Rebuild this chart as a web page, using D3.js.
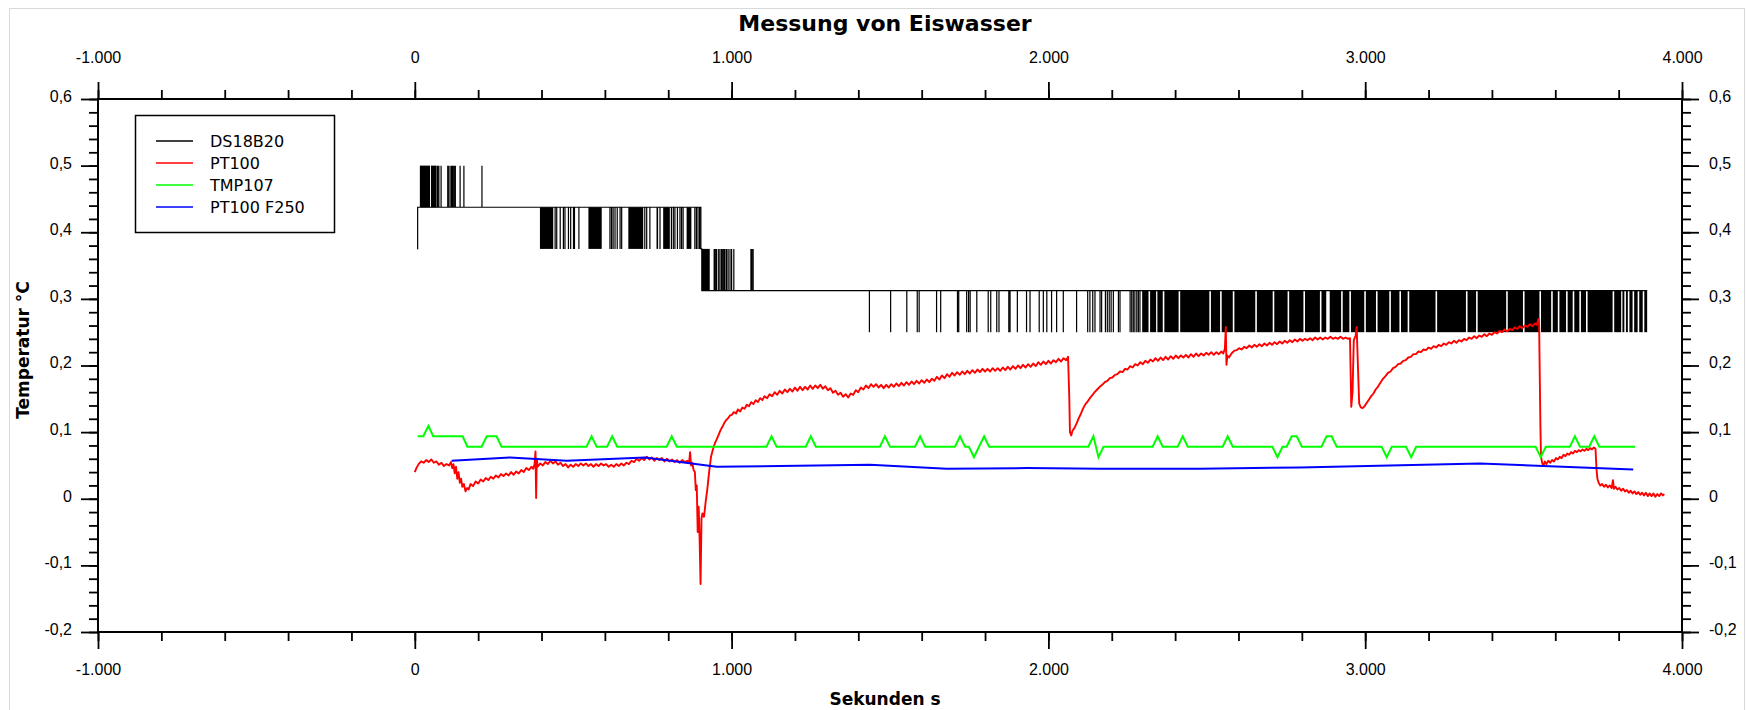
<!DOCTYPE html>
<html>
<head>
<meta charset="utf-8">
<script src="https://cdn.jsdelivr.net/npm/d3@7"></script>
<style>
  body { margin: 0; background: #fff; }
  svg { display: block; font-family: "DejaVu Sans", Verdana, sans-serif; }
</style>
</head>
<body>
<svg id="chart"></svg>
<script>
const width = 1746;
const height = 710;
const margin = { top: 99, right: 64, bottom: 78, left: 98 };

// tick labels / series names
const xTicks = [-1000, 0, 1000, 2000, 3000, 4000];
const yTicks = [-0.2, -0.1, 0, 0.1, 0.2, 0.3, 0.4, 0.5, 0.6];
const seriesNames = ['DS18B20', 'PT100', 'TMP107', 'PT100 F250'];
const seriesColors = ['#000000', '#ff0000', '#00ff00', '#0000ff'];

// DS18B20: base level steps [t, level]
const dsBase = [[8, 0.375], [9, 0.4375], [903, 0.375], [906, 0.3125], [3890, 0.3125]];
// single samples jumping to another level [t, level]
const dsSpikes = [
  [72, 0.5], [76, 0.5], [83, 0.5], [104, 0.5], [108, 0.5], [114, 0.5], [117, 0.5], [120, 0.5],
  [124, 0.5], [128, 0.5], [143, 0.5], [155, 0.5], [212, 0.5],
  [443, 0.375], [448, 0.375], [459, 0.375], [469, 0.375], [474, 0.375], [485, 0.375], [492, 0.375],
  [501, 0.375], [504, 0.375], [518, 0.375], [616, 0.375], [621, 0.375], [626, 0.375], [632, 0.375],
  [639, 0.375], [648, 0.375], [653, 0.375], [726, 0.375], [732, 0.375], [742, 0.375], [774, 0.375],
  [810, 0.375], [816, 0.375], [821, 0.375], [829, 0.375], [837, 0.375], [842, 0.375], [847, 0.375],
  [884, 0.375], [889, 0.375], [894, 0.375], [899, 0.375],
  [945, 0.375], [948, 0.375], [952, 0.375], [958, 0.375], [963, 0.375], [968, 0.375], [972, 0.375],
  [976, 0.375], [979, 0.375], [984, 0.375], [989, 0.375], [995, 0.375], [1000, 0.375], [1007, 0.375],
  [1061, 0.375], [1064, 0.375], [1068, 0.375],
  [1435, 0.25], [1502, 0.25], [1553, 0.25], [1586, 0.25], [1592, 0.25], [1647, 0.25], [1660, 0.25],
  [1713, 0.25], [1717, 0.25], [1742, 0.25], [1748, 0.25], [1753, 0.25], [1774, 0.25], [1810, 0.25],
  [1818, 0.25], [1837, 0.25], [1844, 0.25], [1875, 0.25], [1879, 0.25], [1902, 0.25], [1931, 0.25],
  [1942, 0.25], [1971, 0.25], [1984, 0.25], [1995, 0.25], [2010, 0.25], [2026, 0.25], [2047, 0.25],
  [2089, 0.25], [2124, 0.25], [2131, 0.25], [2140, 0.25], [2147, 0.25], [2163, 0.25], [2168, 0.25],
  [2180, 0.25], [2186, 0.25], [2192, 0.25], [2198, 0.25], [2205, 0.25], [2221, 0.25], [2226, 0.25],
  [2258, 0.25], [2263, 0.25], [2268, 0.25], [2273, 0.25], [2279, 0.25], [2284, 0.25], [2289, 0.25]
];
// stretches of continuous toggling [from, to, level]
const dsBursts = [
  [16, 48, 0.5], [51, 69, 0.5],
  [395, 437, 0.375], [548, 590, 0.375], [674, 721, 0.375], [763, 768, 0.375], [784, 805, 0.375], [858, 873, 0.375],
  [906, 931, 0.375],
  [2296, 2316, 0.25], [2321, 2340, 0.25], [2344, 2361, 0.25], [2366, 2411, 0.25], [2416, 2508, 0.25],
  [2513, 2542, 0.25], [2547, 2582, 0.25], [2587, 2653, 0.25], [2658, 2708, 0.25], [2713, 2755, 0.25],
  [2760, 2805, 0.25], [2810, 2857, 0.25], [2862, 2877, 0.25], [2888, 2924, 0.25], [2929, 2950, 0.25],
  [2955, 2997, 0.25], [3002, 3034, 0.25], [3039, 3076, 0.25], [3081, 3108, 0.25], [3113, 3134, 0.25],
  [3139, 3222, 0.25], [3227, 3318, 0.25], [3323, 3350, 0.25], [3355, 3445, 0.25], [3450, 3498, 0.25],
  [3503, 3550, 0.25], [3555, 3587, 0.25], [3592, 3608, 0.25], [3613, 3634, 0.25], [3639, 3655, 0.25],
  [3660, 3676, 0.25], [3681, 3697, 0.25], [3702, 3781, 0.25], [3786, 3808, 0.25], [3812, 3818, 0.25],
  [3823, 3829, 0.25], [3834, 3844, 0.25], [3849, 3860, 0.25], [3865, 3876, 0.25], [3881, 3890, 0.25]
];

// PT100 [t, temp]
const pt100 = [
  [0, .040], [5, .046], [12, .052], [20, .056], [28, .054], [36, .058], [44, .055], [52, .059], [60, .054],
  [68, .056], [76, .051], [84, .054], [92, .049], [100, .052], [108, .050], [114, .055], [118, .046],
  [122, .052], [126, .038], [130, .048], [134, .030], [138, .040], [142, .024], [146, .030], [150, .018],
  [155, .022], [160, .011], [165, .016], [170, .014], [176, .022], [184, .019], [192, .026], [200, .023],
  [208, .029], [216, .026], [224, .031], [232, .028], [240, .033], [248, .030], [256, .035], [264, .032],
  [272, .037], [280, .034], [288, .038], [296, .035], [304, .040], [312, .036], [320, .041], [328, .038],
  [336, .043], [344, .040], [352, .046], [360, .043], [368, .048], [374, .045], [378, .052], [381, .071],
  [383, .001], [385, .060], [388, .048], [396, .053], [404, .050], [412, .055], [420, .052], [428, .057],
  [436, .053], [444, .056], [452, .051], [460, .054], [468, .049], [476, .052], [484, .047], [492, .051],
  [500, .048], [508, .052], [516, .049], [524, .053], [532, .050], [540, .053], [548, .049], [556, .052],
  [564, .048], [572, .052], [580, .049], [588, .053], [596, .050], [604, .052], [612, .048], [620, .051],
  [628, .048], [636, .052], [644, .049], [652, .053], [660, .050], [668, .054], [676, .052], [684, .057],
  [692, .055], [700, .060], [708, .057], [716, .061], [724, .058], [732, .063], [740, .059], [748, .062],
  [756, .057], [764, .061], [772, .058], [780, .061], [788, .056], [796, .060], [804, .056], [812, .059],
  [820, .055], [828, .058], [836, .054], [844, .058], [852, .055], [860, .057], [866, .055], [869, .070],
  [872, .050], [876, .054], [880, .043], [884, .040], [887, .013], [890, .020], [893, -.050], [896, -.012],
  [899, -.060], [902, -.128], [905, -.030], [908, -.022], [913, -.027], [918, -.005], [923, .013],
  [929, .040], [935, .063], [941, .074], [947, .083], [953, .089], [959, .096], [965, .103], [971, .108],
  [977, .114], [983, .118], [989, .121], [995, .125], [1001, .126], [1007, .130], [1014, .128], [1020, .134],
  [1027, .131], [1034, .137], [1041, .135], [1048, .141], [1055, .139], [1062, .145], [1069, .142],
  [1076, .148], [1083, .145], [1090, .151], [1097, .148], [1104, .154], [1112, .151], [1120, .157],
  [1128, .154], [1136, .160], [1144, .156], [1152, .162], [1160, .158], [1168, .164], [1176, .160],
  [1184, .165], [1192, .161], [1200, .167], [1208, .162], [1216, .168], [1224, .163], [1232, .168],
  [1240, .164], [1248, .170], [1256, .165], [1264, .170], [1272, .166], [1280, .171], [1288, .165],
  [1296, .169], [1304, .163], [1312, .166], [1320, .159], [1328, .162], [1336, .156], [1344, .159],
  [1352, .153], [1360, .157], [1368, .152], [1376, .158], [1384, .156], [1392, .163], [1400, .160],
  [1408, .167], [1416, .164], [1424, .170], [1432, .166], [1440, .172], [1448, .168], [1456, .172],
  [1464, .167], [1472, .171], [1480, .166], [1488, .171], [1496, .167], [1504, .172], [1512, .168],
  [1520, .173], [1528, .169], [1536, .174], [1544, .170], [1552, .175], [1560, .171], [1568, .176],
  [1576, .172], [1584, .177], [1592, .173], [1600, .178], [1608, .174], [1616, .179], [1624, .175],
  [1632, .180], [1640, .177], [1648, .183], [1656, .179], [1664, .185], [1672, .181], [1680, .187],
  [1688, .183], [1696, .189], [1704, .185], [1712, .190], [1720, .186], [1728, .191], [1736, .187],
  [1744, .192], [1752, .188], [1760, .193], [1768, .189], [1776, .194], [1784, .190], [1792, .195],
  [1800, .191], [1808, .195], [1816, .191], [1824, .196], [1832, .192], [1840, .196], [1848, .192],
  [1856, .197], [1864, .193], [1872, .198], [1880, .194], [1888, .199], [1896, .195], [1904, .200],
  [1912, .196], [1920, .201], [1928, .197], [1936, .202], [1944, .198], [1952, .203], [1960, .199],
  [1968, .205], [1976, .201], [1984, .206], [1992, .202], [2000, .207], [2008, .203], [2016, .208],
  [2024, .205], [2032, .210], [2040, .206], [2048, .211], [2056, .208], [2062, .213], [2066, .150],
  [2068, .100], [2072, .095], [2076, .102], [2082, .106], [2089, .113], [2096, .121], [2103, .128],
  [2110, .136], [2117, .142], [2124, .146], [2131, .151], [2138, .155], [2146, .160], [2154, .164],
  [2162, .168], [2170, .171], [2178, .175], [2186, .177], [2194, .181], [2202, .182], [2210, .186],
  [2218, .187], [2226, .191], [2234, .190], [2242, .195], [2250, .194], [2258, .199], [2266, .197],
  [2274, .202], [2282, .200], [2290, .205], [2298, .202], [2306, .207], [2314, .204], [2322, .209],
  [2330, .206], [2338, .211], [2346, .207], [2354, .212], [2362, .208], [2370, .213], [2378, .209],
  [2386, .214], [2394, .210], [2402, .215], [2410, .211], [2418, .215], [2426, .212], [2434, .216],
  [2442, .212], [2450, .217], [2458, .213], [2466, .218], [2474, .214], [2482, .218], [2490, .215],
  [2498, .219], [2506, .216], [2514, .220], [2522, .216], [2530, .220], [2538, .217], [2546, .221],
  [2552, .218], [2557, .225], [2560, .258], [2562, .201], [2565, .215], [2570, .212], [2578, .218],
  [2586, .222], [2594, .223], [2602, .226], [2610, .224], [2618, .228], [2626, .226], [2634, .230],
  [2642, .227], [2650, .231], [2658, .228], [2666, .232], [2674, .229], [2682, .233], [2690, .230],
  [2698, .234], [2706, .231], [2714, .235], [2722, .232], [2730, .236], [2738, .233], [2746, .237],
  [2754, .234], [2762, .238], [2770, .235], [2778, .239], [2786, .236], [2794, .240], [2802, .237],
  [2810, .240], [2818, .238], [2826, .241], [2834, .238], [2842, .242], [2850, .239], [2858, .242],
  [2866, .239], [2874, .242], [2882, .240], [2890, .243], [2898, .240], [2906, .242], [2914, .240],
  [2922, .243], [2930, .240], [2938, .242], [2946, .240], [2952, .241], [2956, .138], [2960, .160],
  [2964, .238], [2970, .245], [2973, .258], [2977, .200], [2981, .143], [2986, .137], [2992, .136],
  [2998, .139], [3005, .144], [3012, .149], [3019, .154], [3026, .158], [3033, .164], [3040, .168],
  [3048, .174], [3056, .180], [3064, .184], [3072, .189], [3080, .191], [3088, .196], [3096, .198],
  [3104, .202], [3112, .203], [3120, .207], [3128, .208], [3136, .212], [3144, .213], [3152, .217],
  [3160, .217], [3168, .221], [3176, .220], [3184, .224], [3192, .223], [3200, .227], [3208, .225],
  [3216, .229], [3224, .227], [3232, .231], [3240, .229], [3248, .233], [3256, .231], [3264, .235],
  [3272, .233], [3280, .237], [3288, .234], [3296, .238], [3304, .236], [3312, .240], [3320, .238],
  [3328, .242], [3336, .240], [3344, .244], [3352, .241], [3360, .245], [3368, .243], [3376, .247],
  [3384, .244], [3392, .248], [3400, .246], [3408, .250], [3416, .248], [3424, .252], [3432, .250],
  [3440, .254], [3448, .251], [3456, .255], [3464, .253], [3472, .257], [3480, .255], [3488, .259],
  [3496, .256], [3504, .260], [3512, .258], [3520, .262], [3528, .259], [3536, .263], [3542, .261],
  [3547, .270], [3549, .262], [3553, .110], [3555, .063], [3559, .053], [3563, .050], [3567, .056],
  [3572, .052], [3578, .057], [3584, .054], [3590, .058], [3596, .056], [3602, .061], [3608, .059],
  [3614, .063], [3620, .061], [3626, .066], [3632, .064], [3638, .068], [3644, .066], [3650, .070],
  [3656, .068], [3662, .072], [3668, .070], [3674, .073], [3680, .071], [3686, .074], [3692, .072],
  [3698, .075], [3704, .073], [3710, .076], [3716, .074], [3722, .077], [3727, .075], [3730, .045],
  [3733, .030], [3737, .024], [3742, .020], [3748, .022], [3754, .018], [3760, .021], [3766, .017],
  [3772, .020], [3778, .016], [3782, .028], [3785, .015], [3790, .018], [3796, .014], [3802, .016],
  [3808, .012], [3814, .015], [3820, .011], [3826, .013], [3832, .009], [3838, .012], [3844, .008],
  [3850, .011], [3856, .007], [3862, .010], [3868, .006], [3874, .009], [3880, .005], [3886, .009],
  [3892, .004], [3898, .008], [3904, .004], [3910, .008], [3916, .003], [3922, .007], [3928, .004],
  [3934, .008], [3940, .005], [3944, .007]
];

// TMP107 [t, temp]
const tmp107 = [
  [9, .0938], [27, .0938], [43, .1094], [58, .0938], [151, .0938], [166, .0781], [211, .0781], [227, .0938],
  [258, .0938], [274, .0781], [542, .0781], [558, .0938], [574, .0781], [607, .0781], [623, .0938],
  [639, .0781], [795, .0781], [811, .0938], [827, .0781], [1110, .0781], [1126, .0938], [1142, .0781],
  [1234, .0781], [1250, .0938], [1266, .0781], [1468, .0781], [1484, .0938], [1500, .0781], [1579, .0781],
  [1595, .0938], [1611, .0781], [1705, .0781], [1721, .0938], [1737, .0781], [1749, .0781], [1765, .0625],
  [1781, .0781], [1797, .0938], [1813, .0781], [2126, .0781], [2142, .0938], [2158, .0625], [2174, .0781],
  [2329, .0781], [2345, .0938], [2361, .0781], [2408, .0781], [2424, .0938], [2440, .0781], [2550, .0781],
  [2566, .0938], [2582, .0781], [2707, .0781], [2723, .0625], [2739, .0781], [2752, .0781], [2768, .0938],
  [2784, .0938], [2800, .0781], [2862, .0781], [2878, .0938], [2894, .0938], [2910, .0781], [3052, .0781],
  [3068, .0625], [3084, .0781], [3129, .0781], [3145, .0625], [3161, .0781], [3538, .0781], [3554, .0625],
  [3570, .0781], [3646, .0781], [3662, .0938], [3678, .0781], [3707, .0781], [3723, .0938], [3739, .0781],
  [3852, .0781]
];

// PT100 F250 [t, temp]
const pt100f250 = [
  [116, .057], [300, .062], [479, .057], [727, .062], [953, .048], [1437, .051], [1679, .045], [1931, .046],
  [2163, .045], [2479, .045], [2794, .047], [3362, .053], [3846, .044]
];

const svg = d3.select('#chart').attr('width', width).attr('height', height);

const x = d3.scaleLinear().domain([-1000, 4000]).range([margin.left, width - margin.right]);
const y = d3.scaleLinear().domain([-0.2, 0.6]).range([height - margin.bottom, margin.top]);

const de = d3.formatLocale({ decimal: ',', thousands: '.', grouping: [3], currency: ['', ' €'], minus: '-' });
const fmtX = de.format(',.0f');
const fmtY = de.format('.1~f');

// outer frame
svg.append('rect')
  .attr('x', 9.5).attr('y', 8.5)
  .attr('width', 1735).attr('height', 740)
  .attr('fill', '#fff')
  .attr('stroke', '#d9d9d9');

// title
svg.append('text')
  .attr('x', 885).attr('y', 31)
  .attr('text-anchor', 'middle')
  .style('font-size', '22px').style('font-weight', 'bold')
  .text('Messung von Eiswasser');

// axes
const plotW = width - margin.left - margin.right;
const plotH = height - margin.top - margin.bottom;

const axes = [
  { gen: d3.axisTop, scale: x, t: `translate(0,${margin.top})`, ticks: xTicks, minor: x.ticks(25), fmt: fmtX, pad: 19 },
  { gen: d3.axisBottom, scale: x, t: `translate(0,${height - margin.bottom})`, ticks: xTicks, minor: x.ticks(25), fmt: fmtX, pad: 14.6 },
  { gen: d3.axisLeft, scale: y, t: `translate(${margin.left},0)`, ticks: yTicks, minor: y.ticks(40), fmt: fmtY, pad: 9 },
  { gen: d3.axisRight, scale: y, t: `translate(${width - margin.right},0)`, ticks: yTicks, minor: y.ticks(40), fmt: fmtY, pad: 10 }
];

axes.forEach(a => {
  const gMinor = svg.append('g').attr('transform', a.t)
    .call(a.gen(a.scale).tickValues(a.minor).tickSize(9).tickFormat(''));
  gMinor.select('.domain').remove();
  const gMajor = svg.append('g').attr('transform', a.t)
    .call(a.gen(a.scale).tickValues(a.ticks).tickSizeInner(17).tickSizeOuter(0).tickPadding(a.pad).tickFormat(a.fmt));
  gMajor.select('.domain').remove();
  gMajor.selectAll('text').style('font-size', '16px').attr('fill', '#000');
  if (a.scale === y) gMajor.selectAll('text').attr('dy', '0.15em');
});
svg.selectAll('.tick line').attr('stroke', '#000').attr('stroke-width', 1.8);

svg.append('rect')
  .attr('x', margin.left).attr('y', margin.top)
  .attr('width', plotW).attr('height', plotH)
  .attr('fill', 'none')
  .attr('stroke', '#000')
  .attr('stroke-width', 2);

// axis titles
svg.append('text')
  .attr('x', 885).attr('y', 705)
  .attr('text-anchor', 'middle')
  .style('font-size', '17px').style('font-weight', 'bold')
  .text('Sekunden s');
svg.append('text')
  .attr('transform', 'translate(29,350) rotate(-90)')
  .attr('text-anchor', 'middle')
  .style('font-size', '17px').style('font-weight', 'bold')
  .text('Temperatur °C');

// DS18B20
const baseAt = t => {
  let v = dsBase[0][1];
  dsBase.forEach(([bt, bv]) => { if (t >= bt) v = bv; });
  return v;
};

const events = dsBase.map(([t, v]) => ({ t, v, step: true }))
  .concat(dsSpikes.map(([t, v]) => ({ t, v, step: false })))
  .sort((a, b) => a.t - b.t);
const dsPoints = [];
let cur = null;
events.forEach(e => {
  if (e.step) {
    if (cur !== null) dsPoints.push([e.t, cur]);
    dsPoints.push([e.t, e.v]);
    cur = e.v;
  } else {
    dsPoints.push([e.t, cur], [e.t, e.v], [e.t, cur]);
  }
});

const line = d3.line().x(d => x(d[0])).y(d => y(d[1]));

svg.append('g').selectAll('rect')
  .data(dsBursts)
  .join('rect')
    .attr('x', d => x(d[0]))
    .attr('width', d => x(d[1]) - x(d[0]))
    .attr('y', d => Math.min(y(d[2]), y(baseAt(d[0]))))
    .attr('height', d => Math.abs(y(d[2]) - y(baseAt(d[0]))))
    .attr('fill', seriesColors[0]);

svg.append('path')
  .datum(dsPoints)
  .attr('fill', 'none')
  .attr('stroke', seriesColors[0])
  .attr('stroke-width', 1.2)
  .attr('d', line);

svg.append('path')
  .datum(pt100)
  .attr('fill', 'none')
  .attr('stroke', seriesColors[1])
  .attr('stroke-width', 1.9)
  .attr('stroke-linejoin', 'round')
  .attr('d', line);

svg.append('path')
  .datum(tmp107)
  .attr('fill', 'none')
  .attr('stroke', seriesColors[2])
  .attr('stroke-width', 2)
  .attr('d', line);

svg.append('path')
  .datum(pt100f250)
  .attr('fill', 'none')
  .attr('stroke', seriesColors[3])
  .attr('stroke-width', 2)
  .attr('d', line);

// legend
const legend = svg.append('g');
legend.append('rect')
  .attr('x', 135.5).attr('y', 115.5)
  .attr('width', 199).attr('height', 117)
  .attr('fill', '#fff')
  .attr('stroke', '#000')
  .attr('stroke-width', 1.5);
const rows = legend.selectAll('g.row')
  .data(seriesNames)
  .join('g')
    .attr('class', 'row')
    .attr('transform', (d, i) => `translate(0,${141 + i * 22})`);
rows.append('line')
  .attr('x1', 156).attr('x2', 193)
  .attr('stroke', (d, i) => seriesColors[i])
  .attr('stroke-width', 1.5);
rows.append('text')
  .attr('x', 210).attr('y', 6)
  .style('font-size', '16px')
  .text(d => d);
</script>
</body>
</html>
